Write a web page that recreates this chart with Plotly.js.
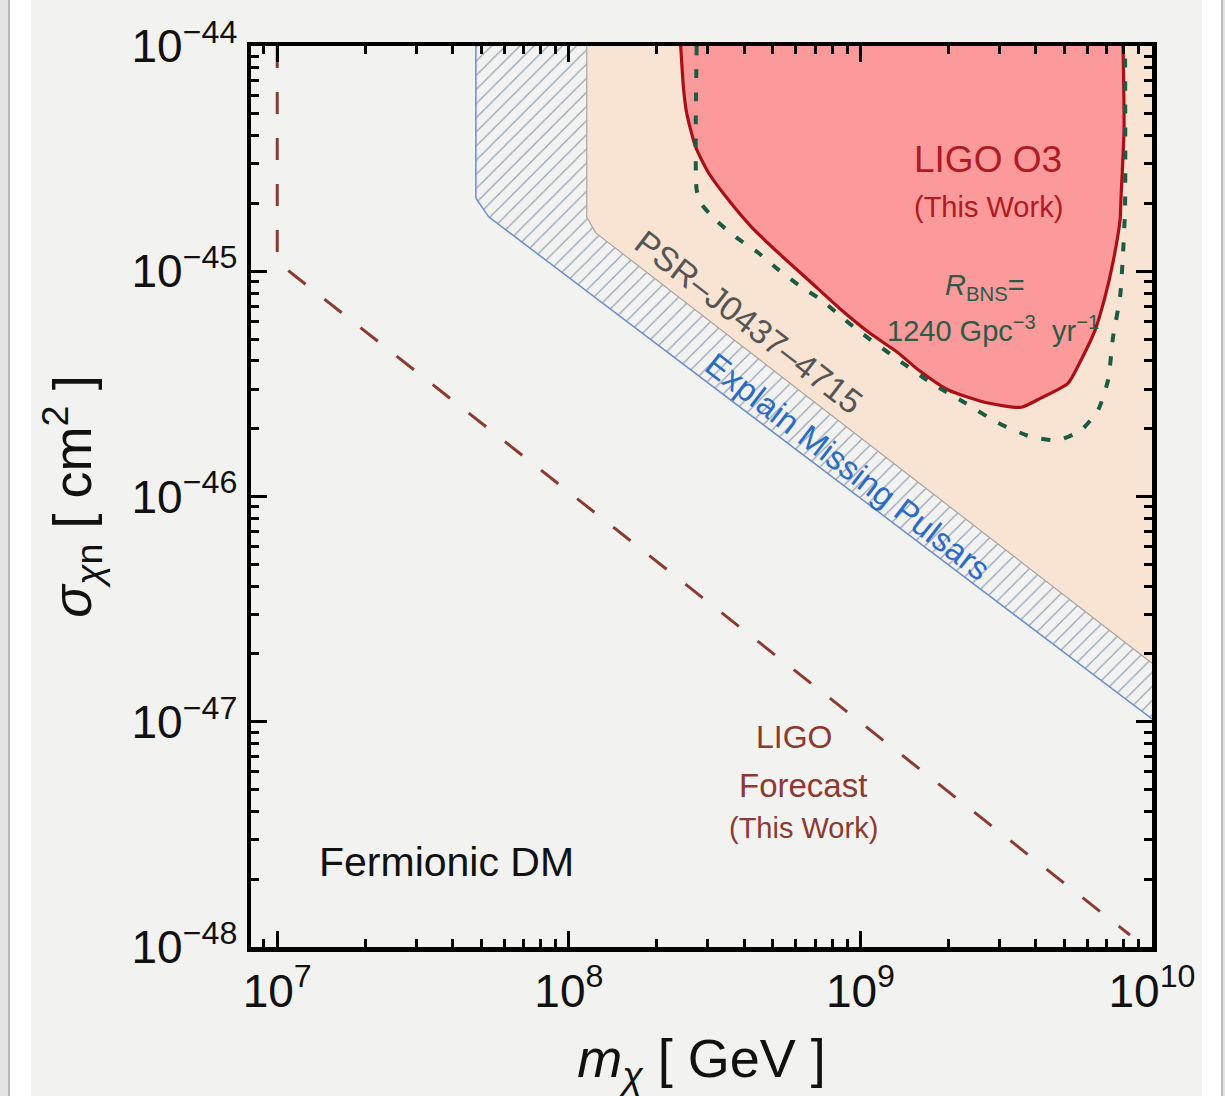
<!DOCTYPE html>
<html><head><meta charset="utf-8">
<script src="https://cdn.plot.ly/plotly-3.0.1.min.js"></script>
<style>html,body{margin:0;padding:0;background:#f2f2f0;} #chart{width:1225px;height:1096px;}</style>
</head><body><div id="chart"></div>
<script>
// ---- data (m_chi in GeV, sigma in cm^2) ----
const o3Mass  = [2.419e8, 2.476e8, 2.535e8, 2.722e8, 3.017e8, 3.531e8, 4.234e8, 5.239e8, 6.636e8, 8.607e8,
                 1.065e9, 1.349e9, 1.579e9, 2.002e9, 2.744e9, 3.559e9, 4.168e9, 5.157e9, 5.713e9, 6.380e9,
                 6.902e9, 7.353e9, 7.771e9, 7.832e9, 8.019e9, 7.957e9];
const o3Sigma = [1e-44, 6.38e-45, 5.05e-45, 3.56e-45, 2.73e-45, 2.07e-45, 1.57e-45, 1.205e-45, 9.14e-46, 6.73e-46,
                 5.37e-46, 4.34e-46, 3.65e-46, 2.97e-46, 2.60e-46, 2.49e-46, 2.74e-46, 3.19e-46, 4.04e-46, 5.48e-46,
                 7.69e-46, 1.10e-45, 1.69e-45, 2.14e-45, 4.24e-45, 1e-44];

const bnsMass  = [2.744e8, 2.744e8, 2.832e8, 3.187e8, 3.731e8, 4.474e8, 5.239e8, 6.281e8, 7.353e8, 8.607e8,
                  1.008e9, 1.349e9, 1.751e9, 2.289e9, 2.969e9, 3.851e9, 4.766e9, 5.713e9, 6.534e9, 7.069e9,
                  7.353e9, 7.771e9, 7.957e9, 8.083e9, 8.083e9];
const bnsSigma = [1e-44, 2.30e-45, 2.01e-45, 1.69e-45, 1.42e-45, 1.205e-45, 1.014e-45, 8.51e-46, 7.45e-46, 6.27e-46,
                  5.32e-46, 4.04e-46, 3.19e-46, 2.60e-46, 2.12e-46, 1.84e-46, 1.78e-46, 1.97e-46, 2.42e-46, 3.29e-46,
                  5.11e-46, 7.69e-46, 1.205e-45, 1.93e-45, 1e-44];

const psrMass  = [1.152e8, 1.152e8, 1.237e8, 1e10];
const psrSigma = [1e-44, 1.74e-45, 1.48e-45, 1.82e-47];

const pulsarMass  = [4.8e7, 4.8e7, 5.32e7, 1e10];
const pulsarSigma = [1e-44, 2.11e-45, 1.74e-45, 1.03e-47];

const forecastMass  = [1e7, 1e7, 8.4e9];
const forecastSigma = [1e-44, 1.1e-45, 1.13e-48];

const xTickVals = [1e7, 1e8, 1e9, 1e10];
const xTickText = ['10<sup>7</sup>', '10<sup>8</sup>', '10<sup>9</sup>', '10<sup>10</sup>'];
const yTickVals = [1e-48, 1e-47, 1e-46, 1e-45, 1e-44];
const yTickText = ['10<sup>−48</sup>', '10<sup>−47</sup>', '10<sup>−46</sup>', '10<sup>−45</sup>', '10<sup>−44</sup>'];

// ---- helpers ----
const X_RANGE = [6.91, 10];
const Y_RANGE = [-48, -44];
const xMax = Math.pow(10, X_RANGE[1]);
const yMax = Math.pow(10, Y_RANGE[1]);
function minorTicks(lo, hi) {
  const v = [];
  for (let d = lo; d < hi; d++) for (let k = 2; k <= 9; k++) v.push(k * Math.pow(10, d));
  return v;
}
const FONT = 'Liberation Sans, Arial, Helvetica, sans-serif';

const traces = [
  // Explain missing pulsars (hatched)
  { x: pulsarMass.concat([xMax]), y: pulsarSigma.concat([yMax]), mode: 'lines', fill: 'toself',
    fillcolor: 'rgba(0,0,0,0)', line: { width: 0 }, hoverinfo: 'skip',
    fillpattern: { shape: '/', fgcolor: '#95a1b6', bgcolor: 'rgba(0,0,0,0)', size: 10, solidity: 0.12 } },
  { x: pulsarMass.slice(1), y: pulsarSigma.slice(1), mode: 'lines', line: { color: '#6b8fcc', width: 1.5 }, hoverinfo: 'skip' },
  { x: pulsarMass.slice(0, 2), y: pulsarSigma.slice(0, 2), mode: 'lines', line: { color: '#6b8fcc', width: 1.5 }, hoverinfo: 'skip' },
  // PSR-J0437-4715
  { x: psrMass.concat([xMax]), y: psrSigma.concat([yMax]), mode: 'lines', fill: 'toself',
    fillcolor: '#f9e4d3', line: { width: 0 }, hoverinfo: 'skip' },
  { x: psrMass, y: psrSigma, mode: 'lines', line: { color: '#a8a4a0', width: 1.2 }, hoverinfo: 'skip' },
  // LIGO O3
  { x: o3Mass, y: o3Sigma, mode: 'lines', fill: 'toself', fillcolor: '#fc9a9b',
    line: { width: 0, shape: 'spline', smoothing: 0.6 }, hoverinfo: 'skip' },
  { x: o3Mass, y: o3Sigma, mode: 'lines', line: { color: '#aa0f16', width: 3.2, shape: 'spline', smoothing: 0.6 }, hoverinfo: 'skip' },
  // R_BNS curve
  { x: bnsMass, y: bnsSigma, mode: 'lines',
    line: { color: '#1b5a43', width: 4, dash: '9px,14px', shape: 'spline', smoothing: 0.6 }, hoverinfo: 'skip' },
  // LIGO forecast
  { x: forecastMass, y: forecastSigma, mode: 'lines',
    line: { color: '#8b3a30', width: 3, dash: '22px,24px' }, hoverinfo: 'skip' }
];

function ann(text, x, y, size, color, extra) {
  return Object.assign({ text: text, x: x, y: y, xref: 'paper', yref: 'paper', showarrow: false,
    xanchor: 'center', yanchor: 'middle', font: { family: FONT, size: size, color: color } }, extra || {});
}

const annotations = [
  ann('LIGO O3', 0.818, 0.8735, 37, '#b01a22'),
  ann('(This Work)', 0.818, 0.8213, 29, '#b01a22'),
  ann('<i>R</i><sub>BNS</sub>=', 0.8147, 0.7325, 29, '#2d5a48'),
  ann('1240 Gpc<sup>−3</sup>  yr<sup>−1</sup>', 0.8235, 0.6859, 29, '#2d5a48'),
  ann('PSR–J0437–4715', 0.5527, 0.6937, 34, '#555555', { textangle: 37.6 }),
  ann('Explain Missing Pulsars', 0.6626, 0.5338, 33, '#2a6bc6', { textangle: 37.6 }),
  ann('LIGO', 0.6027, 0.2331, 32, '#8b3a30'),
  ann('Forecast', 0.6127, 0.1787, 33, '#8b3a30'),
  ann('(This Work)', 0.6127, 0.1321, 29, '#8b3a30'),
  ann('Fermionic DM', 0.2175, 0.0943, 41, '#111111')
];

// slide frame around the paper
const P = (px) => (px - 251) / 901;
const Q = (py) => (947 - py) / 901;
const frame = [
  [0, 8, '#e4e4e4'], [8, 10, '#b9b9b9'], [10, 31, '#ffffff'],
  [1202, 1221, '#ffffff'], [1221, 1223, '#b9b9b9'], [1223, 1225, '#e4e4e4']
].map(f => ({ type: 'rect', xref: 'paper', yref: 'paper', x0: P(f[0]), x1: P(f[1]), y0: Q(1096), y1: Q(0),
              fillcolor: f[2], line: { width: 0 }, layer: 'below' }));

const axisCommon = {
  type: 'log', showline: true, linecolor: '#000', linewidth: 4.5, mirror: 'allticks',
  ticks: 'inside', ticklen: 16, tickwidth: 3, tickcolor: '#000', showgrid: false, zeroline: false,
  tickmode: 'array', tickfont: { family: FONT, size: 46, color: '#111' }
};

const layout = {
  width: 1225, height: 1096,
  margin: { l: 251, r: 73, t: 46, b: 149 },
  paper_bgcolor: '#f2f2f0', plot_bgcolor: '#f2f2f0',
  showlegend: false,
  xaxis: Object.assign({}, axisCommon, {
    range: X_RANGE, tickvals: xTickVals, ticktext: xTickText,
    minor: { tickmode: 'array', tickvals: minorTicks(6, 10), ticks: 'inside', ticklen: 8, tickwidth: 3, tickcolor: '#000', showgrid: false },
    title: { text: '<i>m</i><sub><i>χ</i></sub> [ GeV ]', font: { family: FONT, size: 54, color: '#111' }, standoff: 32 }
  }),
  yaxis: Object.assign({}, axisCommon, {
    range: Y_RANGE, tickvals: yTickVals, ticktext: yTickText,
    minor: { tickmode: 'array', tickvals: minorTicks(-48, -44), ticks: 'inside', ticklen: 8, tickwidth: 3, tickcolor: '#000', showgrid: false },
    title: { text: '<i>σ</i><sub><i>χ</i>n</sub> [ cm<sup>2</sup> ]', font: { family: FONT, size: 54, color: '#111' }, standoff: 24 }
  }),
  annotations: annotations,
  shapes: frame
};

Plotly.newPlot('chart', traces, layout, { displayModeBar: false, staticPlot: true });
</script>
</body></html>
